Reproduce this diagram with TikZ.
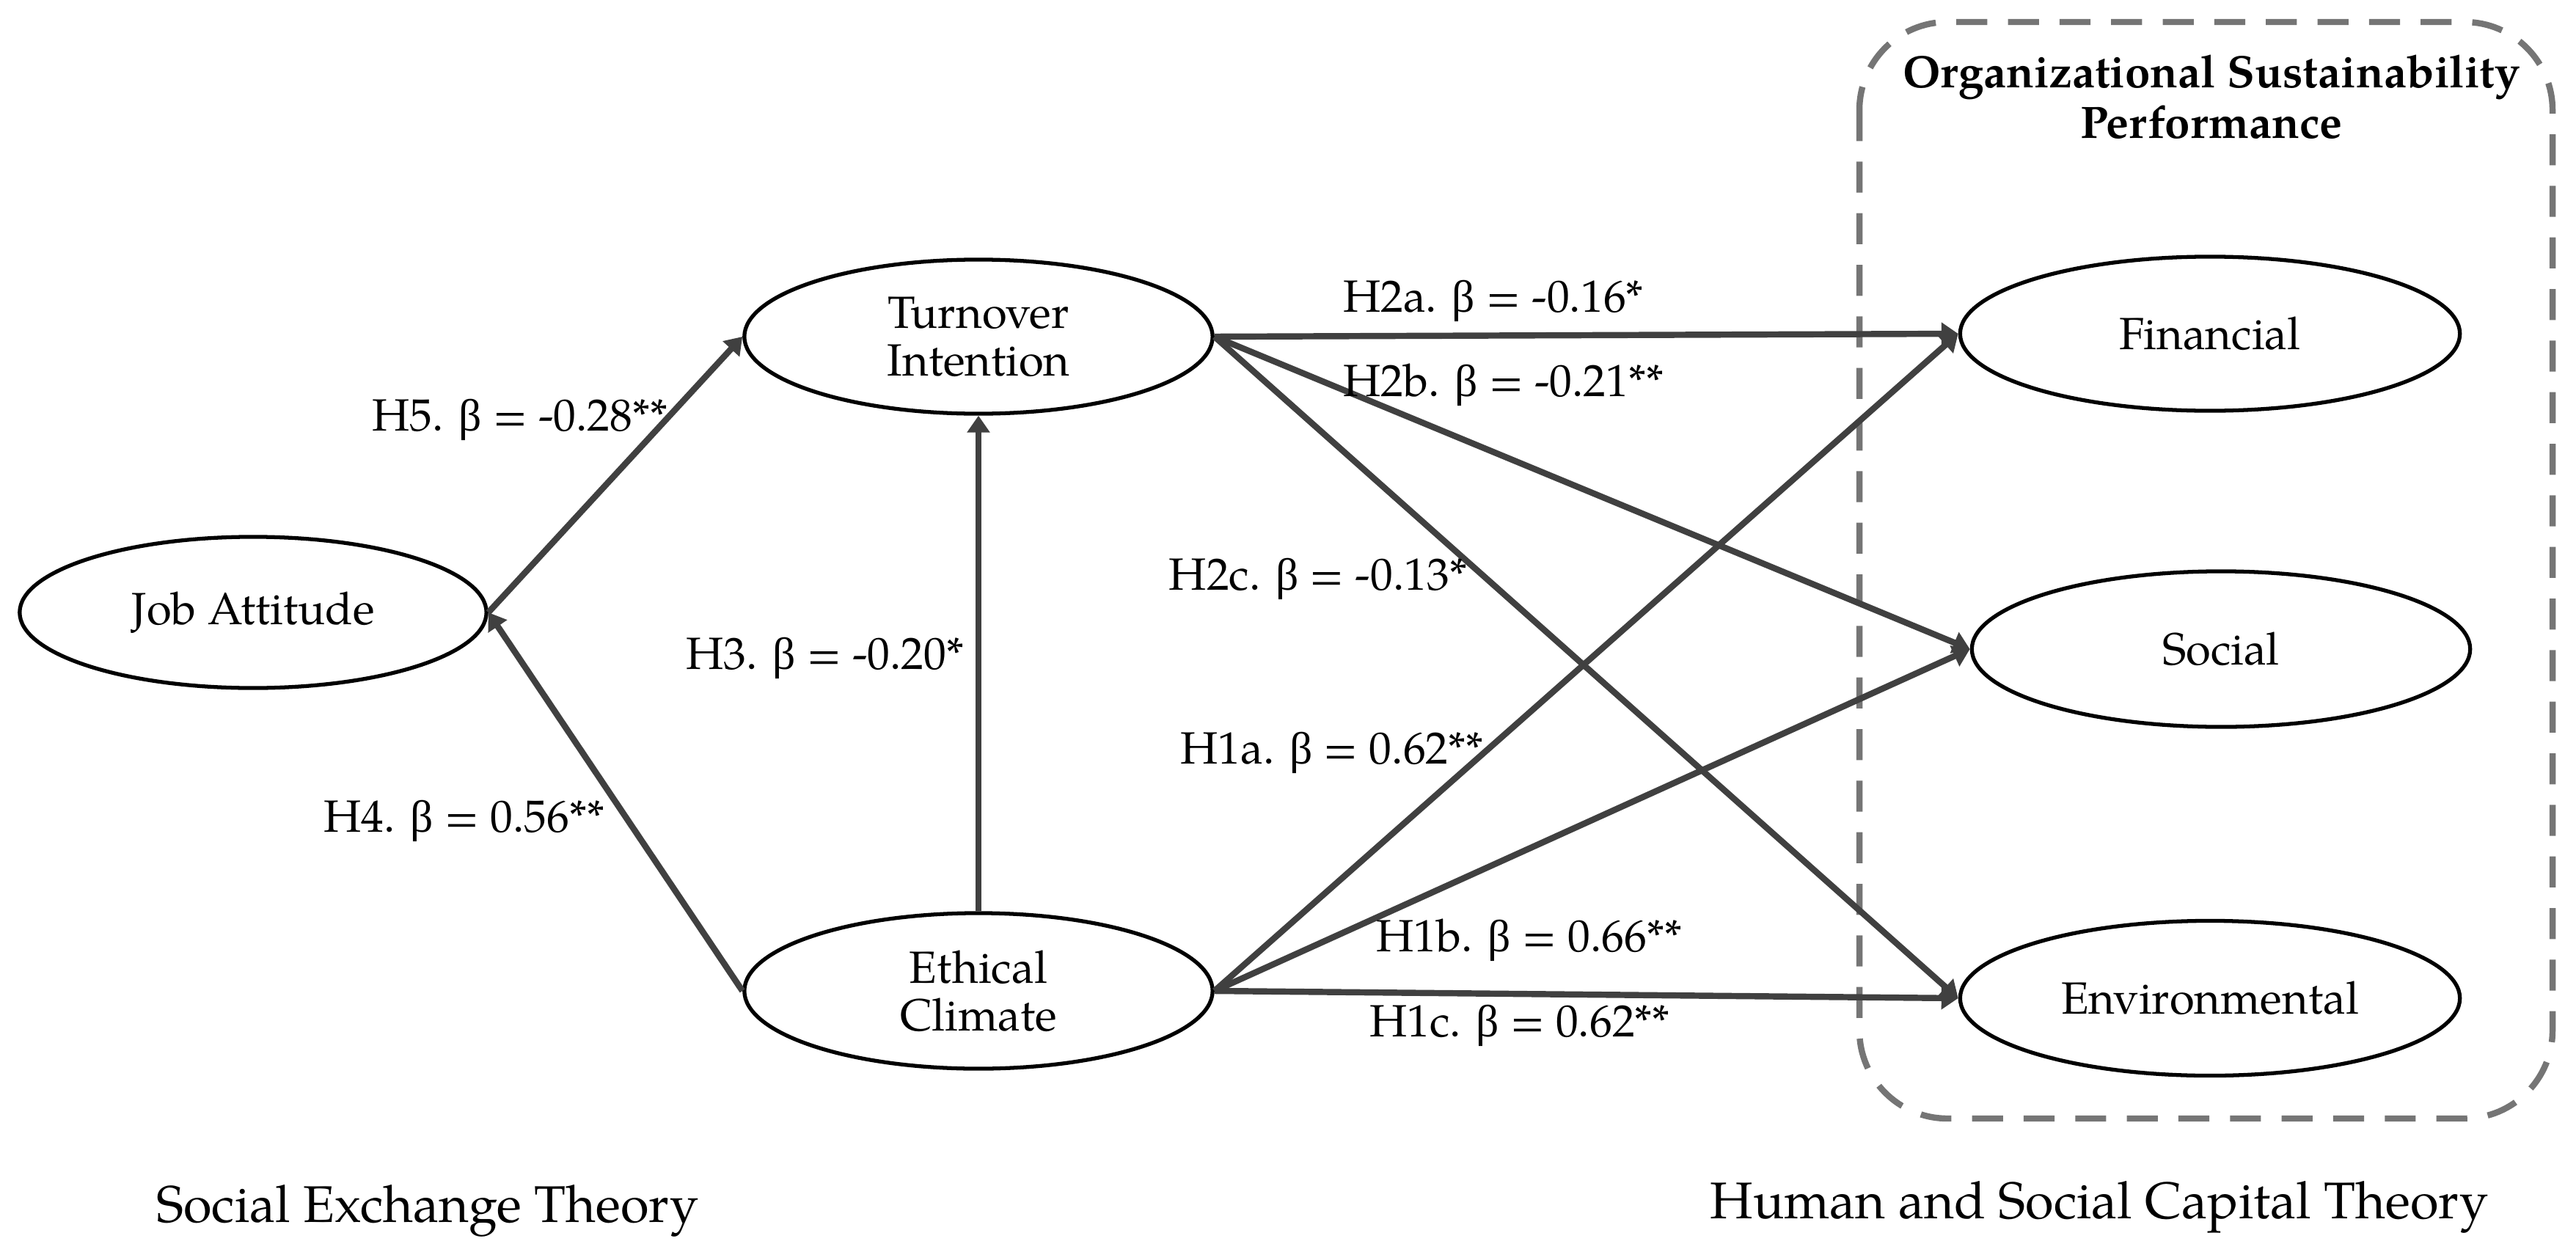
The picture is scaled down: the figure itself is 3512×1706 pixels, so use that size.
\documentclass[tikz,border=0pt]{standalone}
\usepackage{fontspec}
\setmainfont{TeX Gyre Pagella}
\newfontfamily\grk{Liberation Serif}
\usetikzlibrary{arrows.meta,shapes.geometric}
\definecolor{arrgray}{HTML}{404040}
\definecolor{boxgray}{HTML}{757575}
\newcommand{\bt}{{\grk β}}
\begin{document}
\begin{tikzpicture}[x=0.01cm,y=-0.01cm,
  lat/.style={ellipse, draw=black, line width=1.5pt, inner sep=0pt, align=center,
    font=\fontsize{17.5}{18.5}\selectfont},
  conn/.style={draw=arrgray, line width=2.4pt, -{Triangle[length=6.5pt,width=8.5pt]}},
  lbl/.style={font=\fontsize{17.5}{20}\selectfont, inner sep=0pt},
  theory/.style={font=\fontsize{20}{24}\selectfont, inner sep=0pt},
  grp/.style={draw=boxgray, line width=2.4pt, dash pattern=on 12pt off 8pt, rounded corners=1.2cm}
]
\useasboundingbox (0,0) rectangle (3512,1706);
\draw[grp] (2535,30) rectangle (3480,1525);
\node[font=\bfseries\fontsize{17.6}{19.5}\selectfont, align=center, inner sep=0pt] (title) at (3015,132) {Organizational Sustainability\\Performance};

\node[lat, minimum width=6.36cm, minimum height=2.06cm] (job) at (345,835) {Job Attitude};
\node[lat, minimum width=6.38cm, minimum height=2.10cm] (turn) at (1334,459) {Turnover\\Intention};
\node[lat, minimum width=6.38cm, minimum height=2.12cm] (eth) at (1334,1351) {Ethical\\Climate};
\node[lat, minimum width=6.81cm, minimum height=2.10cm] (fin) at (3013,455) {Financial};
\node[lat, minimum width=6.79cm, minimum height=2.12cm] (soc) at (3028,885) {Social};
\node[lat, minimum width=6.81cm, minimum height=2.11cm] (env) at (3013,1361) {Environmental};

\draw[conn] (job.east) -- (turn.west);
\draw[conn] (eth.west) -- (job.east);
\draw[conn] (eth.north) -- (turn.south);
\draw[conn] (turn.east) -- (fin.west);
\draw[conn] (turn.east) -- (soc.west);
\draw[conn] (turn.east) -- (env.west);
\draw[conn] (eth.east) -- (fin.west);
\draw[conn] (eth.east) -- (soc.west);
\draw[conn] (eth.east) -- (env.west);

\node[lbl] (l5) at (709,572) {H5. \bt{} = -0.28**};
\node[lbl] (l4) at (633,1119) {H4. \bt{} = 0.56**};
\node[lbl] (l3) at (1125,897) {H3. \bt{} = -0.20*};
\node[lbl] (l2a) at (2036,410) {H2a. \bt{} = -0.16*};
\node[lbl] (l2b) at (2050,525) {H2b. \bt{} = -0.21**};
\node[lbl] (l2c) at (1797,789) {H2c. \bt{} = -0.13*};
\node[lbl] (l1a) at (1816,1026) {H1a. \bt{} = 0.62**};
\node[lbl] (l1b) at (2085,1282) {H1b. \bt{} = 0.66**};
\node[lbl] (l1c) at (2072,1398) {H1c. \bt{} = 0.62**};

\node[theory] (set) at (583,1651) {Social Exchange Theory};
\node[theory] (hsct) at (2862,1646) {Human and Social Capital Theory};
\end{tikzpicture}
\end{document}
